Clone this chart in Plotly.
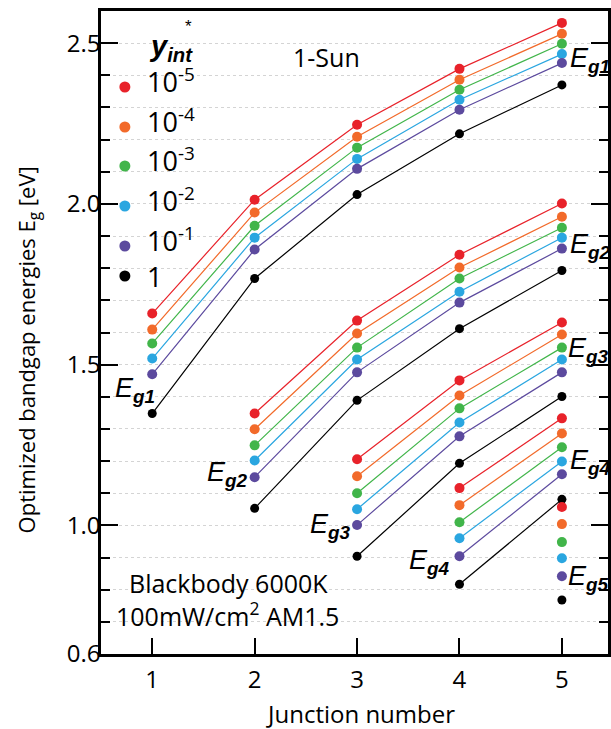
import plotly.graph_objects as go

# ---------------- data ----------------
junctions = [1, 2, 3, 4, 5]
yint_labels = ["10<sup>-5</sup>", "10<sup>-4</sup>", "10<sup>-3</sup>",
               "10<sup>-2</sup>", "10<sup>-1</sup>", "1"]
colors = ["#e8222a", "#f26a2a", "#41b54a", "#2aa6e0", "#5c4a9e", "#000000"]

# rows: yint = 1e-5, 1e-4, 1e-3, 1e-2, 1e-1, 1
eg1 = [[1.659, 2.013, 2.246, 2.420, 2.563],
       [1.609, 1.973, 2.209, 2.386, 2.529],
       [1.566, 1.932, 2.175, 2.355, 2.498],
       [1.519, 1.895, 2.140, 2.324, 2.466],
       [1.470, 1.858, 2.109, 2.293, 2.438],
       [1.348, 1.768, 2.029, 2.218, 2.370]]
eg2 = [[1.348, 1.637, 1.842, 2.001],
       [1.299, 1.597, 1.802, 1.960],
       [1.249, 1.553, 1.768, 1.926],
       [1.202, 1.516, 1.727, 1.895],
       [1.150, 1.476, 1.693, 1.861],
       [1.053, 1.389, 1.612, 1.793]]
eg3 = [[1.206, 1.451, 1.631],
       [1.153, 1.404, 1.594],
       [1.100, 1.364, 1.553],
       [1.050, 1.320, 1.516],
       [1.001, 1.277, 1.476],
       [0.904, 1.193, 1.401]]
eg4 = [[1.116, 1.333],
       [1.063, 1.286],
       [1.010, 1.243],
       [0.960, 1.199],
       [0.904, 1.159],
       [0.817, 1.081]]
eg5 = [[1.057], [1.004], [0.948], [0.898], [0.842], [0.768]]

groups = [(eg1, 1), (eg2, 2), (eg3, 3), (eg4, 4), (eg5, 5)]

y_ticks = [0.6, 1.0, 1.5, 2.0, 2.5]
y_ticktext = ["0.6", "1.0", "1.5", "2.0", "2.5"]

FONT = "Open Sans"
EFONT = "Liberation Sans"

# ---------------- layout geometry helpers ----------------
W, H = 611, 729
L, R, T, B = 101, 0, 11, 75
XR = [0.5, 5.45]
YR = [0.6, 2.6]
pw = W - L - R
ph = H - T - B


def px2x(px):
    return XR[0] + (px - L) / pw * (XR[1] - XR[0])


def py2y(py):
    return YR[0] + (H - B - py) / ph * (YR[1] - YR[0])


fig = go.Figure()

for data, start in groups:
    xs = junctions[start - 1:]
    for vals, col in zip(data, colors):
        fig.add_trace(go.Scatter(
            x=xs, y=vals,
            mode="lines+markers" if len(xs) > 1 else "markers",
            line=dict(color=col, width=1.2),
            marker=dict(color=col, size=10 if col != "#000000" else 9),
            showlegend=False, hoverinfo="skip"))

annotations = []
shapes = []

# manual legend
leg_y = [87, 127, 166, 206, 246, 276]
for lab, col, py in zip(yint_labels, colors, leg_y):
    cx, cy = px2x(125), py2y(py)
    shapes.append(dict(type="circle", xref="x", yref="y", xsizemode="pixel",
                       ysizemode="pixel", xanchor=cx, yanchor=cy,
                       x0=-5.5, x1=5.5, y0=-5.5, y1=5.5,
                       fillcolor=col, line=dict(width=0)))
    annotations.append(dict(x=px2x(145), y=py2y(py - (7 if "sup" in lab else 0)),
                            text=lab, showarrow=False, xanchor="left",
                            yanchor="middle", font=dict(family=FONT, size=27, color="black")))

annotations.append(dict(x=px2x(147), y=py2y(48), text="<b><i>y<sub>int</sub></i></b>",
                        showarrow=False, xanchor="left", yanchor="middle",
                        font=dict(family=EFONT, size=29, color="black")))
annotations.append(dict(x=px2x(189), y=py2y(26), text="*",
                        showarrow=False, xanchor="center", yanchor="middle",
                        font=dict(family=EFONT, size=17, color="black")))

# text labels
annotations.append(dict(x=px2x(328), y=py2y(57), text="1-Sun", showarrow=False,
                        font=dict(family=FONT, size=25, color="black")))
annotations.append(dict(x=px2x(127), y=py2y(583), text="Blackbody 6000K", showarrow=False,
                        xanchor="left", font=dict(family=FONT, size=25, color="black")))
annotations.append(dict(x=px2x(114), y=py2y(614), text="100mW/cm<sup>2</sup> AM1.5",
                        showarrow=False, xanchor="left",
                        font=dict(family=FONT, size=25, color="black")))

# Eg labels
eg_labels = [(1, 571, 60), (2, 571, 246), (3, 569, 350), (4, 571, 462), (5, 569, 578),
             (1, 113, 390), (2, 206, 474), (3, 309, 526), (4, 409, 562)]
for n, px, py in eg_labels:
    annotations.append(dict(x=px2x(px), y=py2y(py),
                            text=f"<i>E<sub><b>g{n}</b></sub></i>",
                            showarrow=False, xanchor="left", yanchor="middle",
                            font=dict(family=EFONT, size=27, color="black")))

# axis titles
annotations.append(dict(xref="paper", yref="paper", x=(28 - L) / pw, y=(H - B - 350) / ph,
                        text="Optimized bandgap energies E<sub>g</sub> [eV]",
                        textangle=-90, showarrow=False, xanchor="center", yanchor="middle",
                        font=dict(family=FONT, size=22, color="black")))
annotations.append(dict(xref="paper", yref="paper", x=(362 - L) / pw, y=(H - B - 713) / ph,
                        text="Junction number", showarrow=False,
                        xanchor="center", yanchor="middle",
                        font=dict(family=FONT, size=24, color="black")))

fig.update_layout(
    width=W, height=H, autosize=False,
    margin=dict(l=L, r=R, t=T, b=B),
    plot_bgcolor="white", paper_bgcolor="white",
    annotations=annotations, shapes=shapes,
)
fig.update_xaxes(range=XR, tickvals=junctions, ticks="inside", ticklen=16, tickwidth=2,
                 tickcolor="black", showline=True, linecolor="black", linewidth=2.5,
                 mirror=True, showgrid=False, zeroline=False,
                 tickfont=dict(family=FONT, size=24, color="black"), ticklabelstandoff=2)
fig.update_yaxes(range=YR, tickvals=y_ticks, ticktext=y_ticktext, ticks="inside",
                 ticklen=17, tickwidth=2, tickcolor="black", showline=True,
                 linecolor="black", linewidth=2.5, mirror="ticks", zeroline=False,
                 showgrid=True, gridcolor="#d4d4d4", griddash="dot", gridwidth=1,
                 minor=dict(dtick=0.1, tick0=0.6, ticks="inside", ticklen=9,
                            tickwidth=1.5, tickcolor="black", showgrid=True,
                            gridcolor="#d4d4d4", griddash="dot", gridwidth=1),
                 tickfont=dict(family=FONT, size=24, color="black"), ticklabelstandoff=-7)

fig.write_html("out.html")
